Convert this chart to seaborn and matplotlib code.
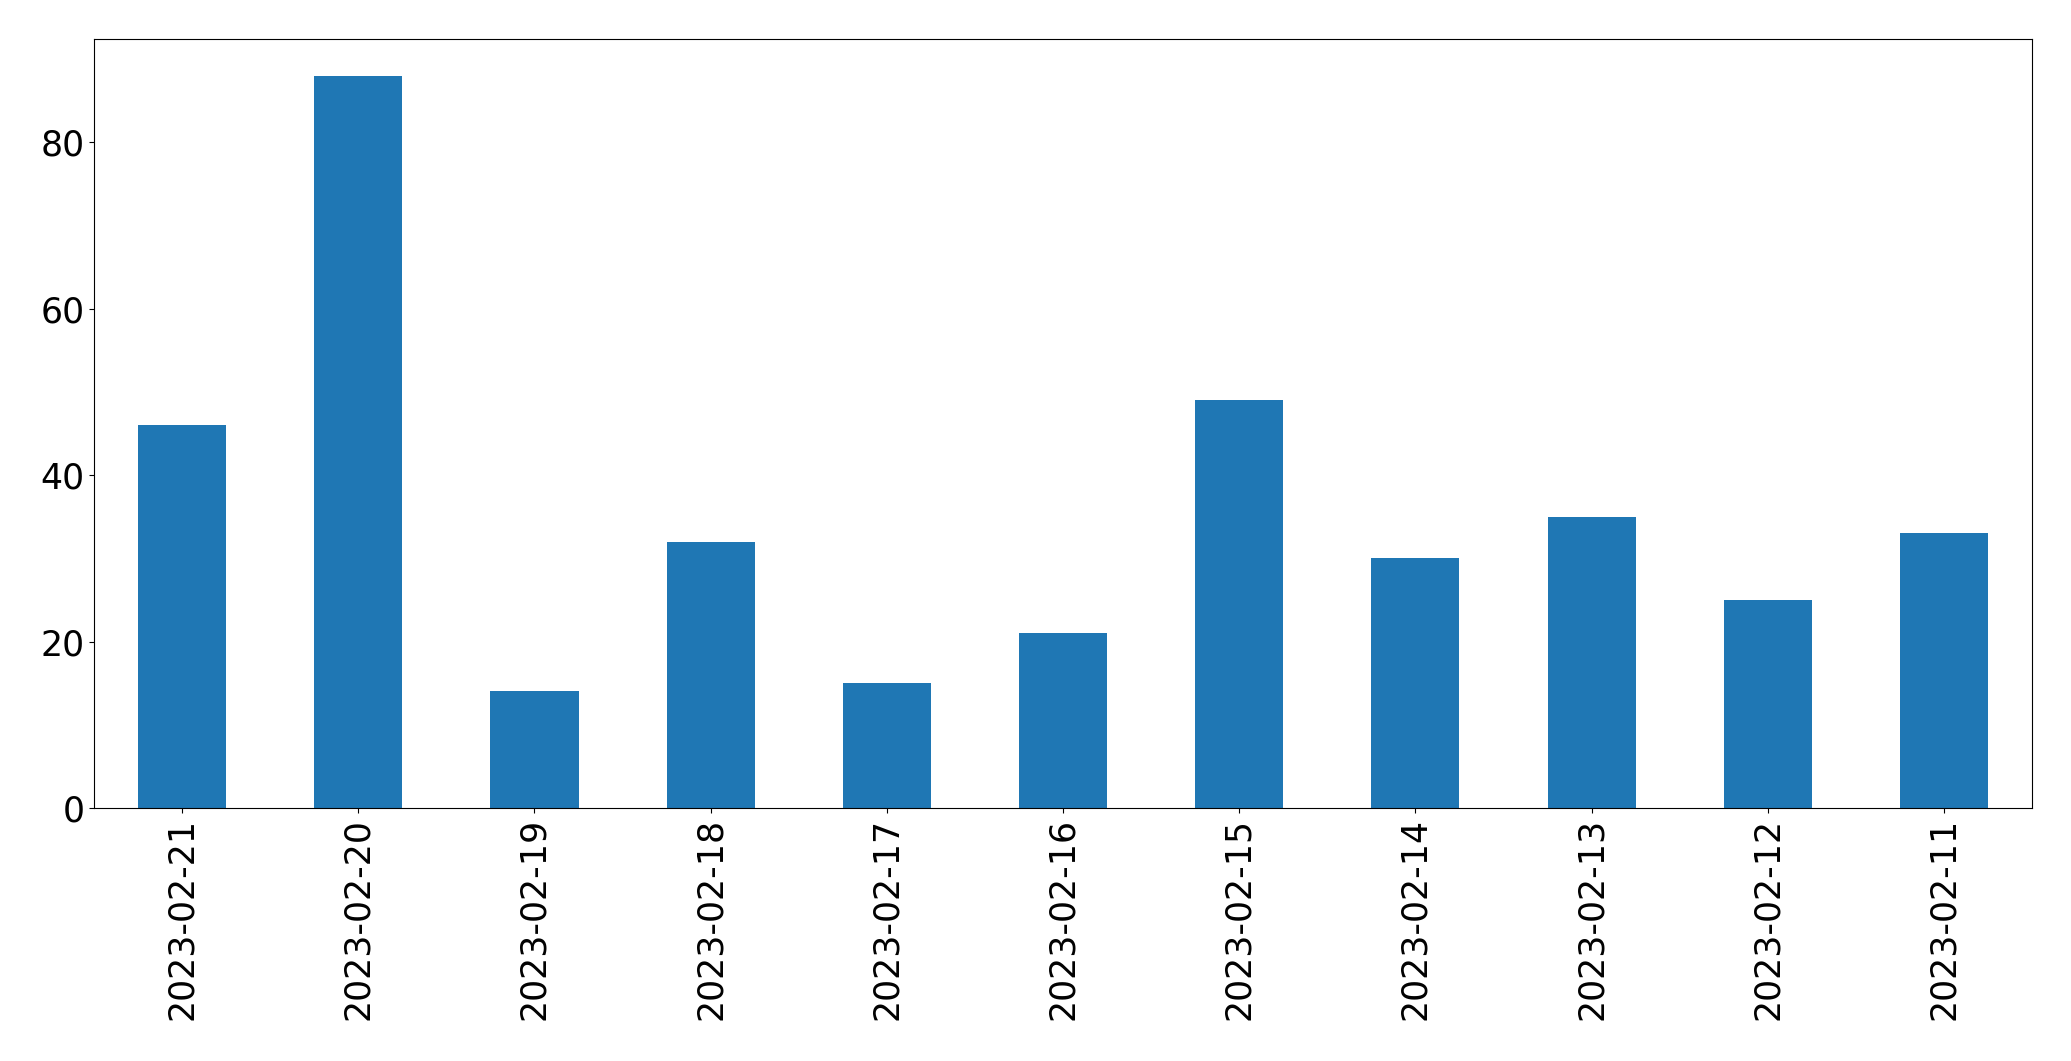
import pandas
import matplotlib
matplotlib.use("Agg")
import matplotlib.pyplot as plt
import seaborn as sns

dates = ["2023-02-21", "2023-02-20", "2023-02-19", "2023-02-18", "2023-02-17",
         "2023-02-16", "2023-02-15", "2023-02-14", "2023-02-13", "2023-02-12",
         "2023-02-11"]
counts = [46, 88, 14, 32, 15, 21, 49, 30, 35, 25, 33]

df = pandas.DataFrame({"date": dates, "count": counts})

font_size = 25

fig = plt.figure(figsize=(20.71, 10.61), dpi=100)
ax = fig.add_axes([94 / 2071, 1 - 808 / 1061, (2032 - 94) / 2071, (808 - 39) / 1061])

sns.barplot(df, x="date", y="count", color="#1f77b4", saturation=1, width=0.5,
            edgecolor="none", ax=ax)

ax.set_xlim(-0.5, len(dates) - 0.5)
ax.set_xlabel("")
ax.set_ylabel("")
ax.tick_params(axis="both", labelsize=font_size)
plt.xticks(rotation=90)

fig.savefig("out.png", dpi=100)
